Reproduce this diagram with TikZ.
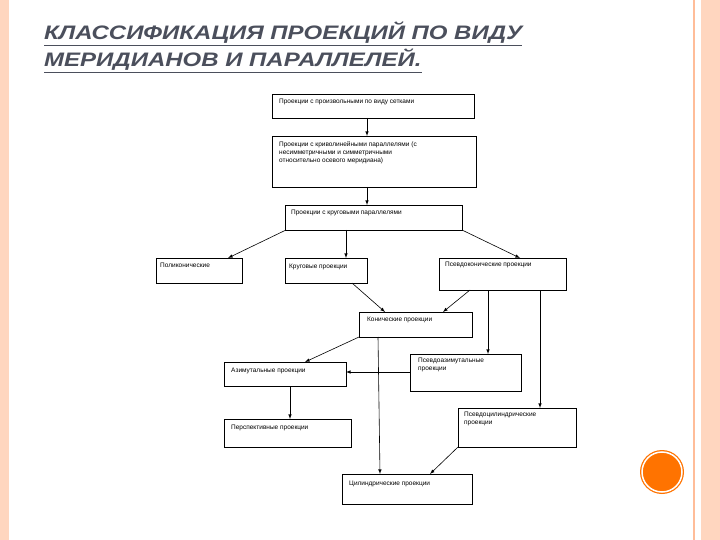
\documentclass[tikz,border=0pt]{standalone}
\usepackage{fontspec}
\setmainfont{Liberation Sans}
\definecolor{ttl}{HTML}{4B4F5C}
\begin{document}
\begin{tikzpicture}[x=1pt,y=-1pt,
  bx/.style={draw,thick,fill=white},
  tx/.style={anchor=north west,font=\fontsize{6.5}{8}\selectfont,align=left,inner sep=0},
  ar/.style={-latex,semithick}]
\useasboundingbox (0,0) rectangle (720,540);
\fill[white] (0,0) rectangle (720,540);
\fill[red!30!orange!25] (0,0) rectangle (9,540);
\fill[red!30!orange!25] (701,0) rectangle (720,540);
\draw[red!30!orange!40,line width=1.5] (694,0) -- (694,540);
\fill[orange!90!red] (662,472) circle (22);
\draw[white,line width=1.5] (662,472) circle (20);
\node[anchor=north west,inner sep=0,align=left,text=ttl,xscale=1.23,font=\fontsize{19.5}{27}\selectfont\bfseries\itshape] (title) at (44,22) {\underline{КЛАССИФИКАЦИЯ ПРОЕКЦИЙ ПО ВИДУ}\\\underline{МЕРИДИАНОВ И ПАРАЛЛЕЛЕЙ.}};
% boxes
\draw[bx] (272,94) rectangle (474,118); \coordinate (b1) at (272,94);
\node[tx] (t1) at (279,99) {Проекции с произвольными по виду сетками};
\draw[bx] (272,136) rectangle (476,187);
\node[tx] (t2) at (279,141) {Проекции с криволинейными параллелями (с\\несимметричными и симметричными\\относительно осевого меридиана)};
\draw[bx] (285,205) rectangle (462,230);
\node[tx] (t3) at (291,210) {Проекции с круговыми параллелями};
\draw[bx] (156,258) rectangle (242,283);
\node[tx] (t4) at (160,263) {Поликонические};
\draw[bx] (285,258) rectangle (367,283);
\node[tx] (t5) at (289,264) {Круговые проекции};
\draw[bx] (439,258) rectangle (566,290);
\node[tx] (t6) at (445,262) {Псевдоконические проекции};
\draw[bx] (359,312) rectangle (472,337);
\node[tx] (t7) at (367,317) {Конические проекции};
\draw[bx] (224,362) rectangle (346,386);
\node[tx] (t8) at (231,368) {Азимутальные проекции};
\draw[bx] (410,354) rectangle (521,391);
\node[tx] (t9) at (418,358) {Псевдоазимутальные\\проекции};
\draw[bx] (224,419) rectangle (351,447);
\node[tx] (t10) at (231,425) {Перспективные проекции};
\draw[bx] (458,408) rectangle (576,447);
\node[tx] (t11) at (464,412) {Псевдоцилиндрические\\проекции};
\draw[bx] (342,474) rectangle (472,504);
\node[tx] (t12) at (349,481) {Цилиндрические проекции};
% arrows
\draw[ar] (367,118) -- (367,136);
\draw[ar] (367,187) -- (367,205);
\draw[ar] (286,230) -- (228,258);
\draw[ar] (346,230) -- (346,258);
\draw[ar] (462,230) -- (520,258);
\draw[ar] (352,283) -- (385,312);
\draw[ar] (470,290) -- (443,312);
\draw[ar] (488,290) -- (488,354);
\draw[ar] (540,290) -- (540,408);
\draw[ar] (359,337) -- (305,362);
\draw[ar] (378,337) -- (380,474);
\draw[ar] (410,372) -- (346,372);
\draw[ar] (290,386) -- (290,419);
\draw[ar] (458,447) -- (430,474);
\end{tikzpicture}
\end{document}
